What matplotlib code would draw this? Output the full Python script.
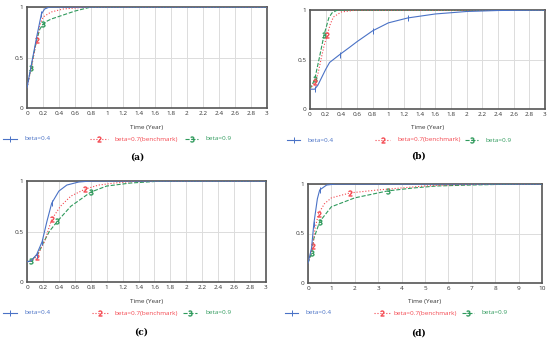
import numpy as np
import matplotlib
matplotlib.use('Agg')
import matplotlib.pyplot as plt
from matplotlib.lines import Line2D

plt.rcParams['font.family'] = ['Open Sans', 'DejaVu Sans']

# data (time in years, share 0..1)
# panel (a)
ta_1 = [0, 0.06, 0.12, 0.18, 0.22, 0.28, 0.4, 3]
ya_1 = [0.2, 0.45, 0.7, 0.93, 0.98, 1.0, 1.0, 1.0]
ta_2 = [0, 0.06, 0.12, 0.16, 0.2, 0.3, 0.45, 0.6, 0.8, 3]
ya_2 = [0.2, 0.42, 0.67, 0.82, 0.9, 0.95, 0.98, 0.99, 1.0, 1.0]
ta_3 = [0, 0.05, 0.12, 0.16, 0.2, 0.25, 0.3, 0.45, 0.6, 0.8, 3]
ya_3 = [0.2, 0.4, 0.67, 0.78, 0.83, 0.86, 0.88, 0.92, 0.96, 1.0, 1.0]

# panel (b)
tb_1 = [0, 0.06, 0.1, 0.15, 0.2, 0.25, 0.38, 0.5, 0.6, 0.8, 1.0, 1.25, 1.6, 2.0, 2.4, 3]
yb_1 = [0.2, 0.2, 0.24, 0.32, 0.4, 0.47, 0.55, 0.62, 0.68, 0.79, 0.87, 0.92, 0.96, 0.985, 0.995, 1.0]
tb_2 = [0, 0.06, 0.1, 0.14, 0.18, 0.22, 0.26, 0.3, 0.4, 0.6, 3]
yb_2 = [0.2, 0.27, 0.35, 0.5, 0.64, 0.75, 0.86, 0.93, 0.98, 1.0, 1.0]
tb_3 = [0, 0.06, 0.12, 0.18, 0.24, 0.28, 0.35, 3]
yb_3 = [0.2, 0.3, 0.52, 0.75, 0.92, 0.97, 1.0, 1.0]

# panel (c)
tc_1 = [0, 0.05, 0.12, 0.19, 0.25, 0.31, 0.4, 0.5, 0.65, 0.8, 3]
yc_1 = [0.2, 0.21, 0.27, 0.4, 0.6, 0.78, 0.9, 0.96, 0.99, 1.0, 1.0]
tc_2 = [0, 0.05, 0.12, 0.22, 0.31, 0.42, 0.55, 0.73, 0.9, 1.1, 1.4, 3]
yc_2 = [0.2, 0.21, 0.25, 0.4, 0.62, 0.75, 0.85, 0.92, 0.96, 0.98, 1.0, 1.0]
tc_3 = [0, 0.05, 0.14, 0.2, 0.28, 0.38, 0.55, 0.8, 1.0, 1.3, 1.7, 3]
yc_3 = [0.2, 0.21, 0.28, 0.38, 0.5, 0.6, 0.75, 0.89, 0.95, 0.98, 1.0, 1.0]

# panel (d)
td_1 = [0, 0.15, 0.25, 0.4, 0.5, 0.8, 1.2, 10]
yd_1 = [0.2, 0.35, 0.6, 0.85, 0.94, 0.99, 1.0, 1.0]
td_2 = [0, 0.2, 0.3, 0.45, 0.7, 1.0, 1.8, 3.0, 4.0, 5.0, 6.0, 8.0, 10]
yd_2 = [0.2, 0.37, 0.55, 0.7, 0.8, 0.86, 0.91, 0.94, 0.96, 0.98, 0.99, 1.0, 1.0]
td_3 = [0, 0.15, 0.25, 0.5, 1.0, 2.0, 2.8, 3.4, 4.5, 5.5, 7.0, 9.0, 10]
yd_3 = [0.2, 0.3, 0.45, 0.62, 0.77, 0.86, 0.9, 0.93, 0.96, 0.98, 0.99, 1.0, 1.0]

# where the series number markers sit
mk_a = [[0.18], [0.12], [0.05, 0.2]]
mk_b = [[0.06, 0.38, 0.8, 1.25], [0.06, 0.22], [0.06, 0.18]]
mk_c = [[0.12, 0.19, 0.31], [0.12, 0.31, 0.73], [0.05, 0.38, 0.8]]
mk_d = [[0.25, 0.5], [0.2, 0.45, 1.8], [0.15, 0.5, 3.4]]

labels = ['beta=0.4', 'beta=0.7(benchmark)', 'beta=0.9']
colors_ = ['#4a72c6', '#f4474f', '#2f9a5c']
styles = ['-', ':', '--']
markers = ['|', '$2$', '$3$']
mews = [0.7, 0.4, 0.4]

xticks_3 = [0, 0.2, 0.4, 0.6, 0.8, 1, 1.2, 1.4, 1.6, 1.8, 2, 2.2, 2.4, 2.6, 2.8, 3]
xticks_10 = list(range(11))

panels = [
    dict(rect=[27, 7, 267, 108], xmax=3, ticks=xticks_3,
         series=[(ta_1, ya_1), (ta_2, ya_2), (ta_3, ya_3)], mk=mk_a,
         leg_y=139, leg_x=[(3, 17, 24), (90, 108, 115), (185, 198, 206)],
         cap='(a)', cap_x=137, cap_y=157, xl_y=127),
    dict(rect=[310, 10, 545, 109], xmax=3, ticks=xticks_3,
         series=[(tb_1, yb_1), (tb_2, yb_2), (tb_3, yb_3)], mk=mk_b,
         leg_y=140, leg_x=[(287, 300, 307), (375, 390, 397), (465, 478, 486)],
         cap='(b)', cap_x=419, cap_y=156, xl_y=128),
    dict(rect=[27, 181, 266, 282], xmax=3, ticks=xticks_3,
         series=[(tc_1, yc_1), (tc_2, yc_2), (tc_3, yc_3)], mk=mk_c,
         leg_y=313, leg_x=[(3, 17, 24), (92, 108, 115), (183, 197, 205)],
         cap='(c)', cap_x=141, cap_y=332, xl_y=301),
    dict(rect=[308, 184, 542, 283], xmax=10, ticks=xticks_10,
         series=[(td_1, yd_1), (td_2, yd_2), (td_3, yd_3)], mk=mk_d,
         leg_y=313, leg_x=[(285, 298, 305), (374, 390, 394), (462, 474, 482)],
         cap='(d)', cap_x=418, cap_y=333, xl_y=301),
]

W, H = 550, 338
fs = 4.6
fig = plt.figure(figsize=(5.5, 3.38), dpi=100)

for p in panels:
    l, t, r, b = p['rect']
    ax = fig.add_axes([l / W, 1 - b / H, (r - l) / W, (b - t) / H])
    for k, (tt, yy) in enumerate(p['series']):
        tt = np.array(tt)
        idx = [int(np.argmin(np.abs(tt - m))) for m in p['mk'][k]]
        ax.plot(tt, yy, color=colors_[k], linestyle=styles[k], lw=0.8,
                marker=markers[k], markevery=idx, ms=4,
                mew=mews[k], zorder=5 - k)
    ax.set_xlim(0, p['xmax'])
    ax.set_ylim(0, 1)
    ax.set_xticks(p['ticks'])
    ax.set_xticklabels([('%g' % v) for v in p['ticks']])
    ax.set_yticks([0, 0.5, 1])
    ax.set_yticklabels(['0', '0.5', '1'])
    ax.tick_params(length=0, labelsize=fs, pad=2.5, colors='#333333')
    ax.grid(True, color='#dcdcdc', lw=0.7)
    for s in ax.spines.values():
        s.set_color('#555555')
        s.set_linewidth(1.2)
    fig.text((l + r) / 2 / W, 1 - p['xl_y'] / H, 'Time (Year)', ha='center',
             va='center', fontsize=fs, color='#333333')
    ly = 1 - p['leg_y'] / H
    for k, (x0, x1, xt) in enumerate(p['leg_x']):
        xm = (x0 + x1) / 2
        fig.add_artist(Line2D([x0 / W, xm / W, x1 / W], [ly, ly, ly],
                              color=colors_[k], linestyle=styles[k], lw=0.8,
                              marker=markers[k], markevery=[1],
                              ms=4, mew=mews[k], transform=fig.transFigure))
        fig.text(xt / W, ly, labels[k], ha='left', va='center', fontsize=fs,
                 color=colors_[k])
    fig.text(p['cap_x'] / W, 1 - p['cap_y'] / H, p['cap'], ha='center',
             va='center', fontsize=6.5, family='serif', weight='bold')

fig.savefig('out.png', dpi=100)
